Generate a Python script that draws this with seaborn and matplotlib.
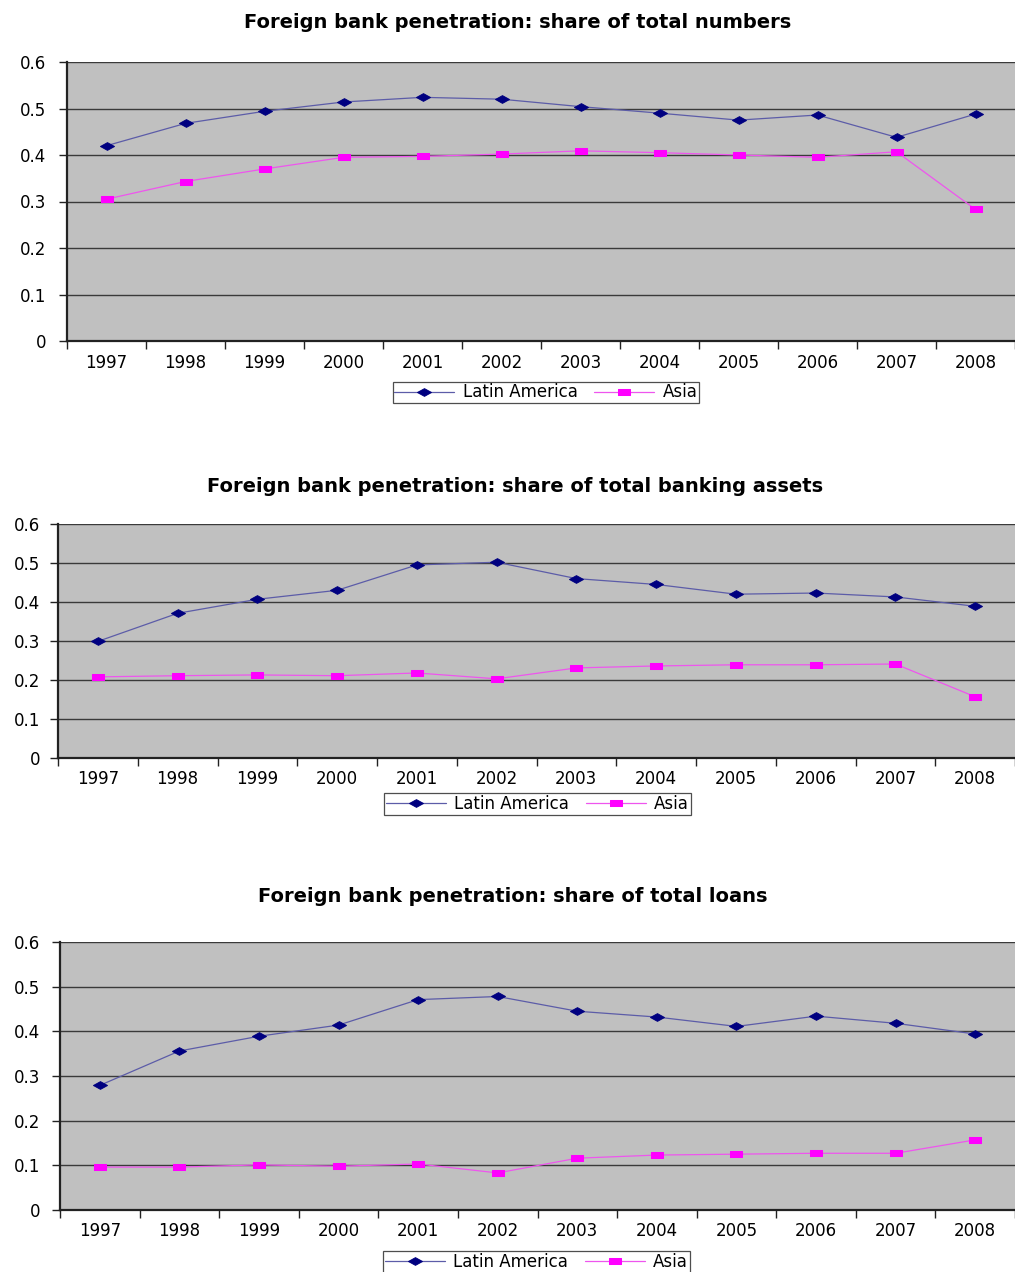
import pandas as pd
import numpy as np
import matplotlib
matplotlib.use("Agg")
import matplotlib.pyplot as plt
import seaborn as sns

# data
years = ["1997", "1998", "1999", "2000", "2001", "2002",
         "2003", "2004", "2005", "2006", "2007", "2008"]

numbers_latam = [0.420, 0.468, 0.494, 0.514, 0.524, 0.520, 0.504, 0.490, 0.475, 0.486, 0.438, 0.488]
numbers_asia = [0.305, 0.343, 0.370, 0.395, 0.397, 0.402, 0.409, 0.405, 0.400, 0.395, 0.407, 0.283]

assets_latam = [0.299, 0.371, 0.407, 0.430, 0.495, 0.502, 0.460, 0.445, 0.420, 0.423, 0.413, 0.389]
assets_asia = [0.208, 0.211, 0.213, 0.211, 0.218, 0.203, 0.231, 0.236, 0.239, 0.239, 0.241, 0.157]

loans_latam = [0.279, 0.356, 0.389, 0.414, 0.471, 0.478, 0.445, 0.432, 0.411, 0.434, 0.418, 0.394]
loans_asia = [0.096, 0.096, 0.101, 0.098, 0.103, 0.083, 0.116, 0.123, 0.125, 0.127, 0.127, 0.157]

titles = ["Foreign bank penetration: share of total numbers",
          "Foreign bank penetration: share of total banking assets",
          "Foreign bank penetration: share of total loans"]
series_names = ["Latin America", "Asia"]
yticks = [0, 0.1, 0.2, 0.3, 0.4, 0.5, 0.6]
ytick_labels = ["0", "0.1", "0.2", "0.3", "0.4", "0.5", "0.6"]

sns.set_style("white")
plt.rcParams['font.family'] = ['DejaVu Sans']
plt.rcParams['text.color'] = 'black'
plt.rcParams['xtick.color'] = 'black'
plt.rcParams['ytick.color'] = 'black'

W, H = 1015, 1272
fig = plt.figure(figsize=(W / 100, H / 100), dpi=100)

# flattened markers like the Excel export
diamond = [(-1, 0), (0, 0.55), (1, 0), (0, -0.55), (-1, 0)]
rect = [(-1, -0.55), (1, -0.55), (1, 0.55), (-1, 0.55), (-1, -0.55)]

# pixel layout: left, top, bottom, right xlim, title y, title x, legend center
panels = [
    dict(left=67, top=62, bottom=341, xmax=11.35, ty=22, tx=518, lx=546, ly=392.5, ypad=9),
    dict(left=58, top=524, bottom=758, xmax=11.43, ty=487, tx=515, lx=537.5, ly=804, ypad=7),
    dict(left=60, top=942, bottom=1210, xmax=11.45, ty=897, tx=513, lx=536.5, ly=1262, ypad=8),
]
data = [(numbers_latam, numbers_asia), (assets_latam, assets_asia), (loans_latam, loans_asia)]

for p, title, (la, asia) in zip(panels, titles, data):
    ax = fig.add_axes([p["left"] / W, 1 - p["bottom"] / H,
                       (W - p["left"]) / W, (p["bottom"] - p["top"]) / H])
    ax.set_facecolor("#c0c0c0")
    df = pd.DataFrame({"Year": years * 2,
                       "Share": la + asia,
                       "Region": [series_names[0]] * 12 + [series_names[1]] * 12})
    for y in yticks[1:]:
        ax.axhline(y, color="#3a3a3a", lw=1, zorder=0.5)
    sns.lineplot(data=df[df.Region == "Latin America"], x="Year", y="Share", ax=ax,
                 color="#5c5ca8", lw=0.9, marker=diamond, markersize=10,
                 markerfacecolor="#000080", markeredgecolor="#000080",
                 label="Latin America")
    sns.lineplot(data=df[df.Region == "Asia"], x="Year", y="Share", ax=ax,
                 color="#ee55ee", lw=0.9, marker=rect, markersize=9,
                 markerfacecolor="#ff00ff", markeredgecolor="#ff00ff",
                 label="Asia")

    ax.set_ylim(0, 0.6)
    ax.set_xlim(-0.5, p["xmax"])
    ax.set_yticks(yticks, labels=ytick_labels)
    ax.set_xticks(range(len(years)), labels=years)
    ax.set_xticks(np.arange(-0.5, 12, 1), minor=True)
    ax.tick_params(axis="x", which="major", length=0, pad=9, labelsize=12)
    ax.tick_params(axis="x", which="minor", length=6, width=1, color="#222222", direction="out")
    ax.tick_params(axis="y", length=6, width=1, color="#222222", direction="out",
                   pad=p["ypad"], labelsize=12)
    ax.tick_params(bottom=True, left=True, which="both")
    ax.set_xlabel("")
    ax.set_ylabel("")
    for s in ["top", "right"]:
        ax.spines[s].set_visible(False)
    for s in ["left", "bottom"]:
        ax.spines[s].set_color("#222222")
        ax.spines[s].set_linewidth(1.6)

    fig.text(p["tx"] / W, 1 - p["ty"] / H, title, ha="center", va="center",
             fontsize=14, fontweight="bold")

    leg = ax.legend(loc="center", bbox_to_anchor=(p["lx"] / W, 1 - p["ly"] / H),
                    bbox_transform=fig.transFigure, ncol=2, frameon=True,
                    fancybox=False, edgecolor="#222222", fontsize=12,
                    handlelength=3.6, borderpad=0.1, columnspacing=1.0,
                    handletextpad=0.5, borderaxespad=0)
    leg.get_frame().set_linewidth(0.9)

fig.savefig("out.png", dpi=100)
